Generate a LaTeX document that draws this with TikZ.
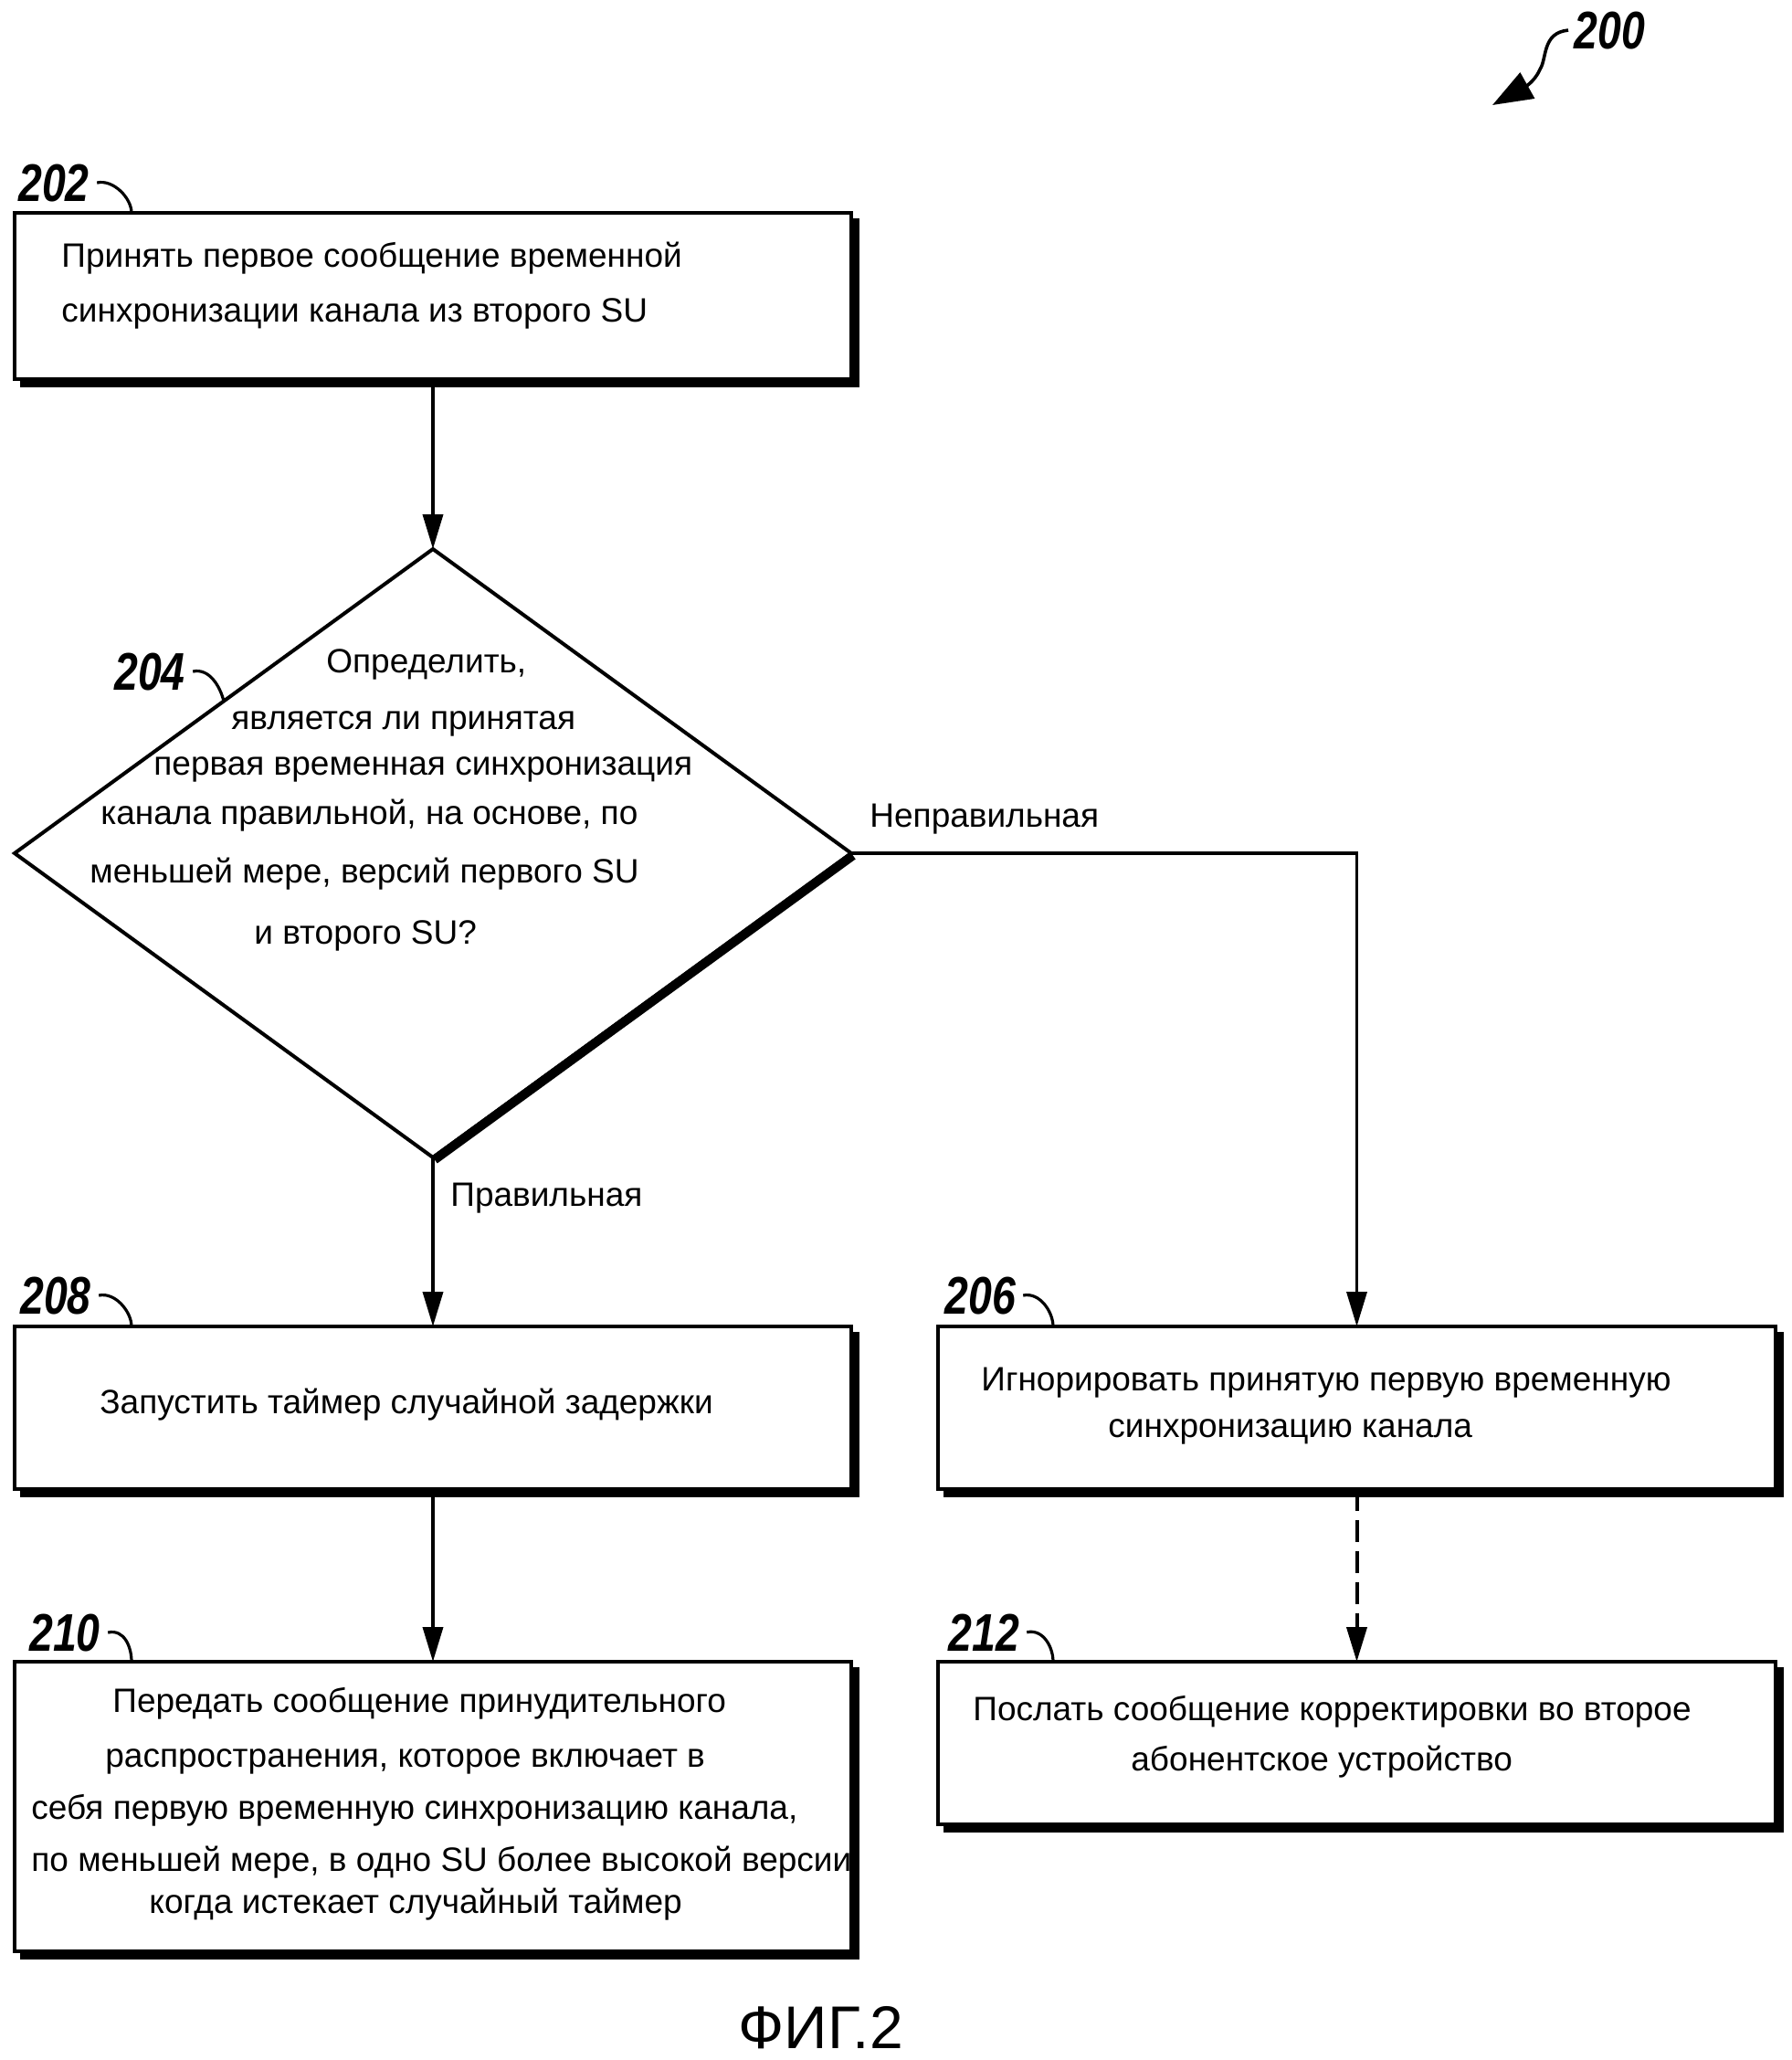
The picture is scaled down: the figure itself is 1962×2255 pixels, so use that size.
\documentclass[tikz,border=0pt]{standalone}
\usepackage{fontspec}
\setmainfont{Liberation Sans}
\newfontfamily\lblfont[FakeStretch=0.8]{Liberation Sans}
\usetikzlibrary{shapes.geometric,arrows.meta,calc}
\newcommand\bshadow[1]{\draw[boxshadow] ([xshift=2.75pt,yshift=-3pt]#1.north east) -- ([xshift=2.75pt,yshift=-2.75pt]#1.south east) -- ([xshift=3pt,yshift=-2.75pt]#1.south west);}
\begin{document}
\begin{tikzpicture}[x=0.5pt,y=-0.5pt,
  txt/.style={font=\fontsize{18.5}{22}\selectfont, inner sep=0, anchor=base west},
  box/.style={draw, line width=2pt, rectangle, inner sep=0, outer sep=0},
  boxshadow/.style={line width=3.5pt, line join=miter},
  conn/.style={line width=1.8pt, -{Triangle[length=19pt,width=11pt]}},
  lbl/.style={font=\lblfont\bfseries\itshape\fontsize{29}{30}\selectfont, inner sep=0, anchor=base west},
  hook/.style={line width=1.6pt}
]
\useasboundingbox (0,0) rectangle (1962,2255);

% boxes
\node[box, minimum width=458pt, minimum height=91pt] (b202) at (474,324) {};
\node[box, minimum width=458pt, minimum height=89pt] (b208) at (474,1541) {};
\node[box, minimum width=458pt, minimum height=158.5pt] (b210) at (474,1977.5) {};
\node[box, minimum width=458.5pt, minimum height=89pt] (b206) at (1485.5,1541) {};
\node[box, minimum width=458.5pt, minimum height=89pt] (b212) at (1485.5,1908) {};
\bshadow{b202}
\bshadow{b208}
\bshadow{b210}
\bshadow{b206}
\bshadow{b212}

% decision
\node[draw, diamond, line width=2pt, minimum width=458pt, minimum height=333pt, inner sep=0, outer sep=0] (d) at (474,934) {};
\draw[line width=5pt] ([xshift=0.9pt,yshift=-1.2pt]d.east) -- ([xshift=0.9pt,yshift=-1.2pt]d.south);

% texts
\node[txt] (t202a) at (67,292) {Принять первое сообщение временной};
\node[txt] (t202b) at (67,352) {синхронизации канала из второго SU};

\node[txt] (t204a) at (357,736) {Определить,};
\node[txt] (t204b) at (253,798) {является ли принятая};
\node[txt] (t204c) at (168,848) {первая временная синхронизация};
\node[txt] (t204d) at (110,902) {канала правильной, на основе, по};
\node[txt] (t204e) at (98,966) {меньшей мере, версий первого SU};
\node[txt] (t204f) at (278,1033) {и второго SU?};

\node[txt] (t208) at (109,1547) {Запустить таймер случайной задержки};

\node[txt] (t206a) at (1074,1522) {Игнорировать принятую первую временную};
\node[txt] (t206b) at (1213,1573) {синхронизацию канала};

\node[txt] (t212a) at (1065,1883) {Послать сообщение корректировки во второе};
\node[txt] (t212b) at (1238,1938) {абонентское устройство};

\node[txt] (t210a) at (123,1874) {Передать сообщение принудительного};
\node[txt] (t210b) at (115,1934) {распространения, которое включает в};
\node[txt] (t210c) at (34,1991) {себя первую временную синхронизацию канала,};
\node[txt] (t210d) at (34,2048) {по меньшей мере, в одно SU более высокой версии};
\node[txt] (t210e) at (163,2094) {когда истекает случайный таймер};

\node[txt] (yes) at (493,1320) {Правильная};
\node[txt] (no) at (952,905) {Неправильная};

\node[font=\fontsize{33}{36}\selectfont, inner sep=0, anchor=base west] (fig) at (808,2242) {ФИГ.2};

% connectors
\draw[conn] (b202.south) -- (d.north);
\draw[conn] (d.south) -- (b208.north);
\draw[conn] (d.east) -| (b206.north);
\draw[conn] (b208.south) -- (b210.north);
\draw[conn, line width=2pt, dash pattern=on 12pt off 5pt] (b206.south) -- (b212.north);

% reference labels
\node[lbl] (l202) at (20,220) {202};
\node[lbl] (l204) at (125,755) {204};
\node[lbl] (l208) at (22,1438) {208};
\node[lbl] (l210) at (32,1807) {210};
\node[lbl] (l206) at (1034,1438) {206};
\node[lbl] (l212) at (1038,1807) {212};
\node[lbl] (l200) at (1723,53) {200};

\draw[hook] ([xshift=4pt]l202.east) .. controls +(9pt,2pt) and +(0,8pt) .. ([xshift=64pt]b202.north west);
\draw[hook] ([xshift=4pt]l204.east) .. controls +(9pt,2pt) and +(-2pt,8pt) .. ($(d.west)!0.5!(d.north)$);
\draw[hook] ([xshift=4pt]l208.east) .. controls +(9pt,2pt) and +(0,8pt) .. ([xshift=64pt]b208.north west);
\draw[hook] ([xshift=4pt]l210.east) .. controls +(9pt,2pt) and +(0,8pt) .. ([xshift=64pt]b210.north west);
\draw[hook] ([xshift=4pt]l206.east) .. controls +(9pt,2pt) and +(0,8pt) .. ([xshift=63pt]b206.north west);
\draw[hook] ([xshift=4pt]l212.east) .. controls +(9pt,2pt) and +(0,8pt) .. ([xshift=63pt]b212.north west);

\coordinate (a200) at (1634,115);
\draw[line width=1.8pt, -{Triangle[length=22pt,width=16pt]}] ([xshift=-3pt]l200.west) .. controls (1688,36) and (1694,64) .. (1686,76) .. controls (1680,90) and (1668,96) .. (a200);
\end{tikzpicture}
\end{document}
